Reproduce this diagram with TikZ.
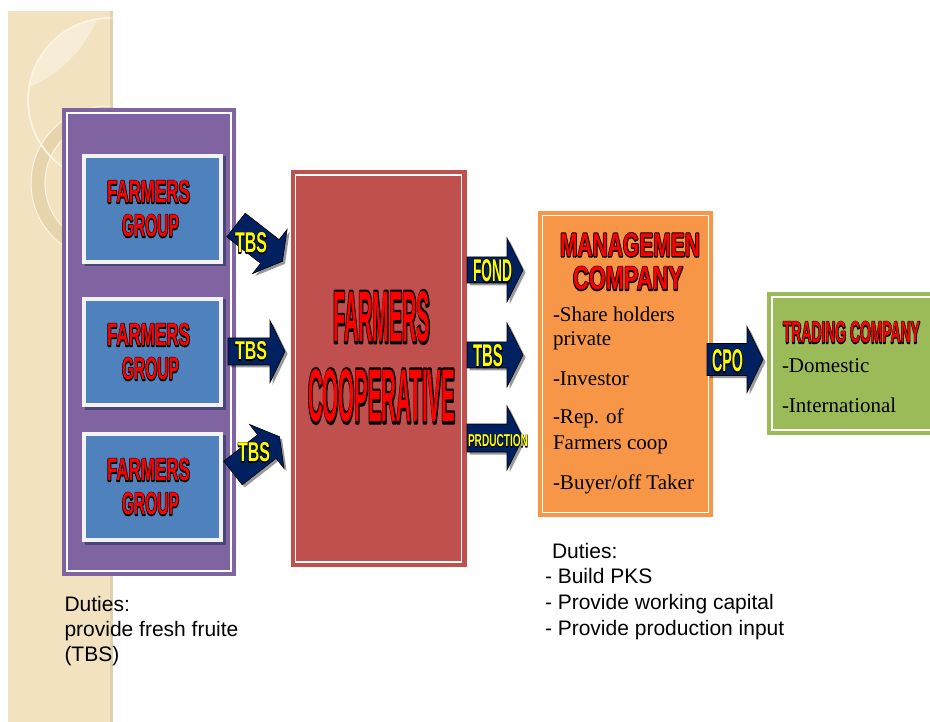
\documentclass[tikz,border=0pt]{standalone}
\usepackage{fontspec}
\setmainfont{Liberation Serif}
\newfontfamily\arialf{Liberation Sans}
\usepackage{graphicx}
\definecolor{stripC}{HTML}{F2E2BF}
\definecolor{stripL}{HTML}{FBF4E4}
\definecolor{stripD}{HTML}{E2CFA4}
\definecolor{purpleC}{HTML}{8064A2}
\definecolor{blueC}{HTML}{4F81BD}
\definecolor{redC}{HTML}{C0504D}
\definecolor{orangeC}{HTML}{F79646}
\definecolor{greenC}{HTML}{9BBB59}
\definecolor{navyC}{HTML}{002060}
\definecolor{frameC}{HTML}{F2F2F2}
\definecolor{shadowC}{HTML}{3B3F6E}
% outlined condensed title: width, cap height, fill rgb, text
\newcommand\ttl[4]{{\arialf\bfseries\fontsize{\fpeval{1.4*#2}pt}{\fpeval{1.7*#2}pt}\selectfont\resizebox{#1pt}{#2pt}{\rlap{\special{pdf:literal direct q 1 Tr 1 j \fpeval{0.11*#2} w 0 0 0 RG}#4\special{pdf:literal direct Q}}\special{pdf:literal direct q #3 rg}#4\special{pdf:literal direct Q}}}}
\newcommand\barrowpath[4]{(0,-#1) -- (#3,-#1) -- (#3,-#2) -- (#3+#4,0) -- (#3,#2) -- (#3,#1) -- (0,#1) -- cycle}
\newcommand\barrow[7]{%
  \fill[arrowshadow,shift={(#1+2.5,#2+2.5)},rotate=#3] \barrowpath{#5}{#6}{#4}{#7};
  \draw[arrowsty,shift={(#1,#2)},rotate=#3] \barrowpath{#5}{#6}{#4}{#7};}
\begin{document}
\begin{tikzpicture}[x=1pt,y=-1pt,
  every node/.style={inner sep=0pt,outer sep=0pt},
  boxsty/.style={anchor=north west,inner sep=0pt,outer sep=0pt},
  innerline/.style={draw=white,line width=1.6pt},
  fgframe/.style={fill=frameC,anchor=north west,minimum width=141pt,minimum height=110pt},
  arrowsty/.style={fill=navyC,draw=black,line width=0.6pt,line join=miter},
  arrowshadow/.style={fill=black,opacity=0.4},
  body/.style={anchor=base west,font=\fontsize{21}{25}\selectfont},
  duty/.style={anchor=base west,font=\arialf\fontsize{21}{25}\selectfont}]
\useasboundingbox (0,0) rectangle (930,722);
\fill[white] (0,0) rectangle (930,722);
% decorative strip
\begin{scope}
  \clip (8,11) rectangle (113,722);
  \fill[stripC] (8,11) rectangle (113,722);
  \begin{scope}
    \clip (110,100) circle (82);
    \fill[stripL,opacity=0.6] (-20,-30) circle (127);
  \end{scope}
  \draw[stripD,opacity=0.7,line width=13pt] (108,183) circle (70);
  \draw[stripL,line width=1pt] (108,183) circle (77);
  \draw[stripL,line width=1pt] (108,183) circle (63);
  \draw[stripL,line width=1.8pt] (110,100) circle (82);
  \fill[black,opacity=0.08] (110,11) rectangle (113,722);
\end{scope}
% purple group box
\node[boxsty,fill=purpleC,minimum width=174pt,minimum height=468pt] (pg) at (62,108) {};
\draw[innerline] ([shift={(5,5)}]pg.north west) rectangle ([shift={(-5,-5)}]pg.south east);
% farmers group boxes
\foreach \n/\yy in {1/154,2/297,3/432}{
  \fill[shadowC,opacity=0.8] (84.5,\yy+2.5) rectangle (225.5,\yy+112.5);
  \node[fgframe] (fg\n) at (82,\yy) {};
  \fill[blueC] ([shift={(4,4)}]fg\n.north west) rectangle ([shift={(-4,-4)}]fg\n.south east);
}
\node (fg1t) at (148.5,192) {\ttl{83}{22}{1 0 0}{FARMERS}};
\node (fg1b) at (150.5,226) {\ttl{57}{22}{1 0 0}{GROUP}};
\node (fg2t) at (148.5,335) {\ttl{83}{22}{1 0 0}{FARMERS}};
\node (fg2b) at (150.5,369) {\ttl{57}{22}{1 0 0}{GROUP}};
\node (fg3t) at (148.5,470) {\ttl{83}{22}{1 0 0}{FARMERS}};
\node (fg3b) at (150.5,504) {\ttl{57}{22}{1 0 0}{GROUP}};
% cooperative
\node[boxsty,fill=redC,minimum width=176pt,minimum height=397pt] (coop) at (290.5,170) {};
\draw[innerline] ([shift={(5,5)}]coop.north west) rectangle ([shift={(-5,-5)}]coop.south east);
\node (coopa) at (381.5,317) {\ttl{97}{50}{1 0 0}{FARMERS}};
\node (coopb) at (381.5,396) {\ttl{147}{52}{1 0 0}{COOPERATIVE}};
% management company
\node[boxsty,fill=orangeC,minimum width=175pt,minimum height=306pt] (man) at (538,211) {};
\draw[innerline] ([shift={(4.5,4.5)}]man.north west) rectangle ([shift={(-4.5,-4.5)}]man.south east);
\node (mana) at (630,245) {\ttl{140}{23}{1 0 0}{MANAGEMEN}};
\node (manb) at (628,278.5) {\ttl{110}{23}{1 0 0}{COMPANY}};
\node[body] (m1) at (553,322) {-Share holders};
\node[body] (m2) at (553,346) {private};
\node[body] (m3) at (553,385) {-Investor};
\node[body] (m4) at (553,423) {-Rep. of};
\node[body] (m5) at (553,449) {Farmers coop};
\node[body] (m6) at (553,489) {-Buyer/off Taker};
% trading company
\node[boxsty,fill=greenC,minimum width=170pt,minimum height=143pt] (trd) at (767,292) {};
\draw[innerline] ([shift={(5,5)}]trd.north west) rectangle ([shift={(-5,-5)}]trd.south east);
\node (trda) at (851.5,332.5) {\ttl{137}{21}{1 0 0}{TRADING COMPANY}};
\node[body] (t1) at (782,373) {-Domestic};
\node[body] (t2) at (782,413) {-International};
% block arrows
\barrow{236}{225}{-38}{43}{15}{28}{16}
\barrow{228}{351.5}{0}{42}{13.5}{31}{15}
\barrow{233}{473}{38}{43}{15}{28}{16}
\barrow{467}{270}{0}{40}{13}{32}{16}
\barrow{467}{355}{0}{40}{13}{32}{16}
\barrow{467}{438}{0}{40}{14}{32}{16}
\barrow{707}{359.5}{0}{40}{16}{33}{16}
\node (l1) at (251,243) {\ttl{32}{20}{1 1 0}{TBS}};
\node (l2) at (251,351) {\ttl{32}{18}{1 1 0}{TBS}};
\node (l3) at (254,452.5) {\ttl{32}{19}{1 1 0}{TBS}};
\node (l4) at (492.5,271) {\ttl{39}{22}{1 1 0}{FOND}};
\node (l5) at (488,356) {\ttl{30}{22}{1 1 0}{TBS}};
\node (l6) at (498,441) {\ttl{60}{12}{1 1 0}{PRDUCTION}};
\node (l7) at (727.5,361) {\ttl{31}{22}{1 1 0}{CPO}};
% duties
\node[duty] (d1) at (64.5,611) {Duties:};
\node[duty] (d2) at (64.5,636) {provide fresh fruite};
\node[duty] (d3) at (64.5,661) {(TBS)};
\node[duty] (e1) at (552,558) {Duties:};
\node[duty] (e2) at (545,583.5) {- Build PKS};
\node[duty] (e3) at (545,609) {- Provide working capital};
\node[duty] (e4) at (545,635) {- Provide production input};
\end{tikzpicture}
\end{document}
